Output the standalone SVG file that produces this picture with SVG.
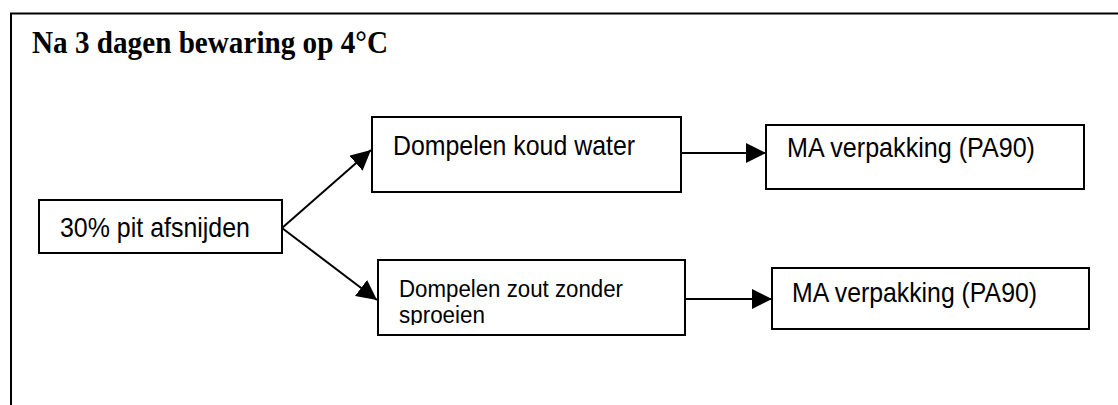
<svg xmlns="http://www.w3.org/2000/svg" width="1118" height="405" viewBox="0 0 1118 405">
  <style>
    .box { fill: #ffffff; stroke: #000000; stroke-width: 2; }
    .lbl { font-family: "Liberation Sans", Arial, sans-serif; font-size: 28px; fill: #000000; }
    .sm { font-size: 23px; }
    .title { font-family: "Liberation Serif", "Times New Roman", serif; font-size: 31px; font-weight: bold; fill: #000000; }
    .conn { stroke: #000000; stroke-width: 2; fill: none; marker-end: url(#arrow); }
    .frame { stroke: #000000; stroke-width: 2; fill: none; }
  </style>
  <defs>
    <marker id="arrow" markerUnits="userSpaceOnUse" markerWidth="20" markerHeight="20" refX="20" refY="10" orient="auto">
      <path d="M0,0 L20,10 L0,20 z" fill="#000000"/>
    </marker>
    <clipPath id="clip4">
      <rect x="379" y="261" width="305" height="64"/>
    </clipPath>
  </defs>
  <rect width="1118" height="405" fill="#ffffff"/>
  <g id="frame">
    <path class="frame" d="M11,405 L11,13.5 L1118,13.5"/>
    <text class="title" x="32" y="53" textLength="356" lengthAdjust="spacingAndGlyphs">Na 3 dagen bewaring op 4°C</text>
  </g>
  <g id="connectors">
    <line class="conn" x1="282" y1="228" x2="371" y2="150"/>
    <line class="conn" x1="282" y1="228" x2="377" y2="300"/>
    <line class="conn" x1="682" y1="153" x2="766" y2="153"/>
    <line class="conn" x1="686" y1="299" x2="772" y2="299"/>
  </g>
  <g id="node-afsnijden">
    <rect class="box" x="39" y="200" width="243" height="53"/>
    <text class="lbl" x="60" y="237" textLength="190" lengthAdjust="spacingAndGlyphs">30% pit afsnijden</text>
  </g>
  <g id="node-koud">
    <rect class="box" x="372" y="117" width="309" height="75"/>
    <text class="lbl" x="393" y="155" textLength="242" lengthAdjust="spacingAndGlyphs">Dompelen koud water</text>
  </g>
  <g id="node-ma1">
    <rect class="box" x="766" y="125" width="318" height="64"/>
    <text class="lbl" x="787" y="157" textLength="248" lengthAdjust="spacingAndGlyphs">MA verpakking (PA90)</text>
  </g>
  <g id="node-zout">
    <rect class="box" x="378" y="260" width="307" height="75"/>
    <g clip-path="url(#clip4)">
      <text class="lbl sm" x="399" y="297" textLength="224" lengthAdjust="spacingAndGlyphs">Dompelen zout zonder</text>
      <text class="lbl sm" x="399" y="323" textLength="86" lengthAdjust="spacingAndGlyphs">sproeien</text>
    </g>
  </g>
  <g id="node-ma2">
    <rect class="box" x="772" y="268" width="317" height="61"/>
    <text class="lbl" x="792" y="302" textLength="245" lengthAdjust="spacingAndGlyphs">MA verpakking (PA90)</text>
  </g>
</svg>
